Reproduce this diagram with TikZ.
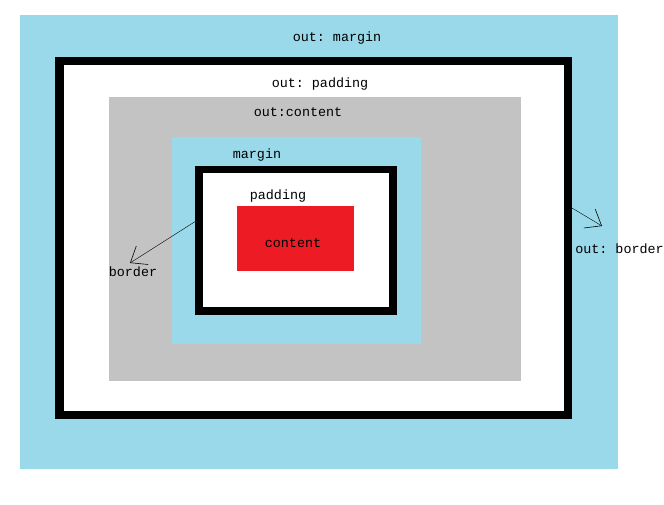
\documentclass[tikz,border=0pt]{standalone}
\usepackage{fontspec}
\setmonofont{Liberation Mono}
\usetikzlibrary{arrows.meta}

\definecolor{boxblue}{HTML}{99D9EA}
\definecolor{boxgray}{HTML}{C3C3C3}
\definecolor{boxred}{HTML}{ED1C24}

\tikzset{
  lbl/.style={font=\ttfamily\fontsize{13.4}{15}\selectfont, inner sep=0pt,
    text height=8pt, text depth=3pt},
  pointer/.style={thin, -{Straight Barb[length=14pt, width=22pt, line width=0.6pt]}}
}

\begin{document}
\begin{tikzpicture}[x=1pt, y=-1pt]
\useasboundingbox (0,0) rectangle (664,505);

% outer box
\fill[boxblue] (20,15) rectangle (618,469);
\fill[white] (59.5,61) rectangle (568,415);
\draw[line width=8.5pt] (59.5,61) rectangle (568,415);
\fill[boxgray] (109,97) rectangle (521,381);

% inner box
\fill[boxblue] (172,137) rectangle (421,344);
\fill[white] (199,169.5) rectangle (393,311);
\draw[line width=7.5pt] (199,169.5) rectangle (393,311);
\fill[boxred] (237,206) rectangle (354,271);

% labels
\foreach \x/\y/\name/\txt in {337/39/outmargin/{out: margin}, 320/85/outpadding/{out: padding},
  298/114/outcontent/{out:content}, 257/156/margin/{margin}, 278/197/padding/{padding},
  293/245/content/{content}, 133/274/border/{border}, 619.5/251/outborder/{out: border}}
\node[lbl] (\name) at (\x,\y) {\txt};

% pointers to the borders
\coordinate (inb) at (196,221);
\coordinate (inbtip) at (130,263);
\coordinate (outb) at (572,208);
\coordinate (outbtip) at (602,226);
\draw[pointer] (inb) -- (inbtip);
\draw[pointer] (outb) -- (outbtip);
\end{tikzpicture}
\end{document}
